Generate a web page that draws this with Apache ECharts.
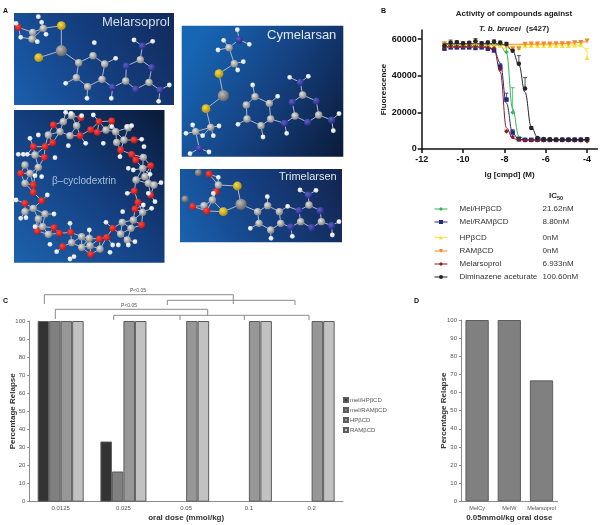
<!DOCTYPE html>
<html><head><meta charset="utf-8">
<style>html,body{margin:0;padding:0;background:#fff}#c{width:605px;height:525px}</style>
<script src="https://cdn.jsdelivr.net/npm/echarts@6/dist/echarts.min.js"></script>
</head><body><div id="c"></div>
<script>
// ---------- Panel B data ----------
const logDose = [-10.9,-10.6,-10.3,-10,-9.7,-9.4,-9.1,-8.8,-8.5,-8.2,-7.9,-7.6,-7.3,-7,-6.7,-6.4,-6.1,-5.8,-5.5,-5.2,-4.9,-4.6,-4.3,-4];
const compounds = ['Mel/HPβCD','Mel/RAMβCD','HPβCD','RAMβCD','Melarsoprol','Diminazene aceturate'];
const ic50 = ['21.62nM','8.80nM','0nM','0nM','6.933nM','100.60nM'];
const melHP   = [56000,56500,56500,57000,56500,56500,57000,56500,56500,56500,53000,20000,6000,5200,5000,5000,5000,5000,5000,5000,5000,5000,5000,5000];
const melRAM  = [54800,55500,55500,55500,55500,55200,55500,54800,53800,45000,27000,9000,5300,5000,5000,5000,5000,5000,5000,5000,5000,5000,5000,5200];
const hp      = [56500,56800,57000,56800,57000,56800,57000,56800,56800,56500,56000,55000,55500,56500,56500,56500,56500,56500,56500,56500,56500,56800,57000,50000];
const ram     = [57500,57500,57800,57500,57500,57800,57300,57300,57500,57000,56000,54700,54800,57200,57300,57300,57300,57300,57500,57500,57500,58000,58200,59000];
const mel     = [55500,56000,56000,55800,56000,55800,56000,55500,55000,43600,9500,6500,5000,4800,4800,4800,4800,4800,4800,4800,4800,4700,4700,4300];
const dimin   = [56500,58000,58300,57800,58000,58800,57800,58200,58600,58000,57300,53700,46500,33000,11500,6000,5500,5300,5200,5200,5200,5200,5200,5300];
const errHP   = [500,500,500,500,500,500,500,500,500,500,2000,13500,800,300,300,300,300,300,300,300,300,300,300,300];
const errRAM  = [800,700,700,600,700,700,600,800,1500,1500,3500,1500,500,300,300,300,300,300,300,300,300,300,300,300];
const errYel  = [300,300,300,300,300,300,300,300,300,300,300,300,300,300,300,300,300,300,300,300,300,300,300,5000];
const errOra  = [500,500,500,500,500,500,500,500,500,500,500,500,500,500,500,500,500,500,500,500,500,800,800,800];
const errMel  = [800,700,700,600,600,600,600,700,1500,1000,800,500,300,300,300,300,300,300,300,300,300,300,300,300];
const errDim  = [1200,1500,800,800,800,1500,800,800,1000,1000,1000,800,4500,6000,800,500,300,300,300,300,300,300,300,300];
const fitHP   = [57000,57000,57000,57000,57000,57000,57000,57000,57000,56500,52500,22000,7000,5200,5000,5000,5000,5000,5000,5000,5000,5000,5000,5000];
const fitRAM  = [55500,55500,55500,55500,55500,55500,55500,55300,54000,47000,25000,8500,5300,5000,5000,5000,5000,5000,5000,5000,5000,5000,5000,5000];
const fitYel  = [56800,56800,56800,56800,56800,56800,56800,56800,56800,56800,56800,56800,56800,56800,56800,56800,56800,56800,56800,56800,56800,56800,56500,53000];
const fitOra  = [57200,57200,57200,57200,57200,57200,57200,57200,57200,57200,57200,57200,57200,57200,57200,57300,57300,57400,57500,57600,57800,58000,58300,58800];
const fitMel  = [56000,56000,56000,56000,56000,56000,56000,55800,54500,42000,11500,5800,5000,4800,4800,4800,4800,4800,4800,4800,4800,4800,4800,4800];
const fitDim  = [57500,57500,57500,57500,57500,57500,57500,57500,57500,57400,56500,53500,46000,31000,12000,6500,5300,5200,5200,5200,5200,5200,5200,5200];
const xTicksB = [-12,-10,-8,-6,-4];
const yTicksB = [0,20000,40000,60000];

// ---------- Panel C data ----------
const doses = ['0.0125','0.025','0.05','0.1','0.2'];
const melHPbCD  = [100,33.3,0,0,0];
const melRAMbCD = [100,16.7,0,0,0];
const HPbCD     = [100,100,100,100,100];
const RAMbCD    = [100,100,100,100,100];

// ---------- Panel D data ----------
const drugs = ['MelCy','MelW','Melarsoprol'];
const relapseD = [100,100,66.7];

// ---------- Panel A molecule sketches: [x, y, element] in a 3x local frame ----------
const molMelarsoprol = [[55,82,'O'],[48,70,'H'],[98,97,'C'],[130,85,'C'],[115,50,'H'],[125,67,'H'],[138,103,'H'],[62,112,'H'],[96,117,'C'],[112,125,'H'],[184,77,'S'],[116,173,'S'],[184,152,'As'],[236,188,'C'],[279,167,'C'],[314,192,'C'],[306,238,'C'],[263,260,'C'],[229,233,'C'],[283,128,'H'],[347,175,'H'],[197,250,'H'],[261,295,'H'],[338,262,'N'],[334,295,'H'],[377,243,'C'],[379,198,'N'],[421,179,'C'],[455,203,'N'],[447,247,'C'],[407,268,'N'],[427,138,'N'],[402,120,'H'],[458,124,'H'],[480,270,'N'],[508,255,'H'],[476,304,'H']];
const molCymelarsan = [[177,74,'N'],[172,44,'H'],[208,88,'H'],[147,98,'C'],[131,76,'H'],[114,105,'H'],[163,146,'C'],[190,140,'H'],[173,165,'H'],[117,176,'S'],[78,281,'S'],[130,242,'As'],[199,270,'C'],[225,245,'C'],[268,265,'C'],[272,312,'C'],[243,332,'C'],[201,312,'C'],[218,210,'H'],[293,244,'H'],[174,328,'H'],[249,366,'H'],[314,325,'N'],[320,355,'H'],[345,303,'C'],[337,262,'N'],[368,240,'C'],[409,258,'N'],[416,300,'C'],[383,322,'N'],[361,202,'N'],[329,187,'H'],[385,184,'H'],[455,315,'N'],[477,296,'H'],[460,347,'H'],[92,337,'C'],[117,333,'H'],[100,362,'H'],[47,350,'C'],[38,330,'H'],[18,355,'H'],[68,362,'H'],[58,400,'N'],[30,416,'H'],[87,411,'H']];
const molTrimelarsen = [[55,473,'G'],[15,552,'G'],[87,477,'O'],[115,510,'C'],[115,487,'H'],[108,530,'O'],[97,555,'C'],[100,535,'H'],[72,572,'C'],[38,574,'O'],[80,588,'O'],[172,513,'S'],[130,590,'S'],[183,568,'As'],[233,590,'C'],[263,572,'C'],[298,590,'C'],[302,625,'C'],[272,645,'C'],[237,625,'C'],[262,545,'H'],[323,574,'H'],[211,640,'H'],[273,670,'H'],[332,636,'N'],[337,664,'H'],[362,620,'C'],[357,587,'N'],[387,570,'C'],[421,587,'N'],[424,620,'C'],[395,638,'N'],[385,540,'N'],[360,525,'H'],[408,526,'H'],[455,632,'N'],[477,620,'H'],[457,660,'H']];
const cycloO = [[160,60],[243,38],[297,50],[335,48],[272,74],[292,82],[402,105],[362,135],[395,148],[407,165],[452,182],[403,258],[452,270],[414,292],[405,312],[425,360],[338,370],[320,397],[298,402],[272,448],[212,382],[188,425],[178,385],[162,368],[112,378],[125,287],[100,262],[100,240],[62,205],[100,125],[133,157],[135,125],[158,113],[240,92],[75,295]];
const cycloC = [[145,90],[180,80],[210,92],[230,62],[190,50],[215,32],[318,75],[347,80],[372,105],[350,112],[385,68],[430,157],[428,190],[445,235],[408,225],[435,215],[462,240],[428,322],[400,345],[393,370],[367,352],[362,387],[382,405],[245,395],[215,413],[245,427],[268,400],[270,422],[300,432],[145,388],[128,365],[115,342],[100,310],[135,327],[75,320],[105,150],[75,180],[90,205],[115,187],[75,235]];
const cycloH = [[90,100],[115,90],[197,22],[213,25],[245,32],[205,122],[257,115],[280,30],[395,62],[380,65],[335,65],[310,115],[425,103],[360,155],[432,125],[400,195],[385,190],[450,208],[483,233],[382,265],[465,290],[445,265],[455,310],[368,320],[430,300],[318,352],[338,420],[405,410],[385,420],[355,420],[330,442],[268,375],[210,355],[222,455],[210,462],[170,440],[150,418],[105,365],[142,270],[125,215],[105,212],[48,285],[62,340],[78,338],[162,327],[55,148],[70,148],[82,148],[165,158]];

// ---------- helpers ----------
const SANS = 'Liberation Sans, Arial, sans-serif';
const colB = ['#35b45a','#27277f','#f6e63c','#f28a2e','#8c1c20','#23232b'];
const symB = ['diamond','rect','triangle','triangle','diamond','circle'];
const rotB = [0,0,0,180,0,0];
const pts  = [melHP,melRAM,hp,ram,mel,dimin];
const errs = [errHP,errRAM,errYel,errOra,errMel,errDim];
const fits = [fitHP,fitRAM,fitYel,fitOra,fitMel,fitDim];
const legendTopsB = [205,218,233.5,247,260,273];
// series keys of panel B stay distinct from the identically spelled bar series of panel C
const keyB = compounds.map(n=>'B:'+n);

const zip = a => logDose.map((x,i)=>[x,a[i]]);
const style = {
  H:{r:2.4,c:['#ffffff','#cfd4dc'],bond:12},
  C:{r:3.7,c:['#e4e4e4','#7d7d7d'],bond:26},
  G:{r:3.5,c:['#b0b0b0','#555555'],bond:0},
  N:{r:3.6,c:['#5a62c8','#23287e'],bond:26},
  O:{r:3.4,c:['#ff4a40','#c01014'],bond:26},
  S:{r:4.4,c:['#f7dc4a','#a98a0c'],bond:32},
  As:{r:5.6,c:['#bdbdbd','#5c5c5c'],bond:46}
};
function molecule(atoms, ox, oy, k){
  const out = [];
  atoms.forEach((a,i)=>{ atoms.slice(i+1).forEach(b=>{
    if(a[2]==='H'&&b[2]==='H') return;
    const lim=(style[a[2]].bond+style[b[2]].bond)*k;
    if(!style[a[2]].bond||!style[b[2]].bond) return;
    if(Math.hypot(a[0]-b[0],a[1]-b[1])<lim)
      out.push({type:'line',z:2,shape:{x1:ox+a[0]/3,y1:oy+a[1]/3,x2:ox+b[0]/3,y2:oy+b[1]/3},style:{stroke:'#aeb6c6',lineWidth:1}});
  });});
  atoms.forEach(a=>{const s=style[a[2]];
    out.push({type:'circle',z:3,shape:{cx:ox+a[0]/3,cy:oy+a[1]/3,r:s.r},
      style:{fill:{type:'radial',x:.38,y:.35,r:.7,colorStops:[{offset:0,color:s.c[0]},{offset:1,color:s.c[1]}]}}});
  });
  return out;
}
function panel(x,y,w,h,c1,c2,c3,gx,gy,gx2,gy2){
  return {type:'rect',z:1,shape:{x,y,width:w,height:h},style:{fill:{type:'linear',x:gx,y:gy,x2:gx2,y2:gy2,colorStops:[{offset:0,color:c1},{offset:.5,color:c2},{offset:1,color:c3}]}}};
}
const txt=(x,y,text,o)=>({type:'text',z:5,x,y,style:Object.assign({text,fontFamily:SANS,verticalAlign:'middle',align:'left'},o)});
function bracket(x1,x2,top,l,r,mids){
  const out=[{type:'polyline',z:2,shape:{points:[[x1,l],[x1,top],[x2,top],[x2,r]]},style:{stroke:'#8a8a8a',lineWidth:1,fill:null}}];
  (mids||[]).forEach(m=>out.push({type:'line',z:2,shape:{x1:m,y1:top,x2:m,y2:l},style:{stroke:'#8a8a8a',lineWidth:1}}));
  return out;
}
const cycloAtoms = [...cycloO.map(p=>[p[0],p[1],'O']),...cycloC.map(p=>[p[0],p[1],'C']),...cycloH.map(p=>[p[0],p[1],'H'])];

const graphics = [
  panel(14,13,160,92,'#1b5fae','#143f80','#122a5c',0,1,1,0),
  panel(14,110,150.5,152.7,'#1d62ad','#143f80','#0a1a38',0,1,1,0),
  panel(181.7,25.7,161.6,131,'#1766b4','#15407f','#0a1a38',0,.3,1,1),
  panel(180,169,162,73.3,'#1a62b0','#153f80','#14244f',0,1,1,0),
  ...molecule(molMelarsoprol,0,0,1),
  ...molecule(cycloAtoms,0,105,.78),
  ...molecule(molCymelarsan,180,15,1),
  ...molecule(molTrimelarsen,180,15,1),
  txt(102,22.6,'Melarsoprol',{fill:'#d5dfec',fontSize:13}),
  txt(52,181,'β–cyclodextrin',{fill:'#a9bfd8',fontSize:10}),
  txt(267,35.7,'Cymelarsan',{fill:'#e0e8f2',fontSize:13}),
  txt(279,177,'Trimelarsen',{fill:'#dfe7f1',fontSize:11}),
  txt(3,11,'A',{fill:'#111',fontSize:7,fontWeight:'bold'}),
  txt(381,11,'B',{fill:'#111',fontSize:7,fontWeight:'bold'}),
  txt(3,301,'C',{fill:'#111',fontSize:7,fontWeight:'bold'}),
  txt(414,301,'D',{fill:'#111',fontSize:7,fontWeight:'bold'}),
  txt(549,196,'{a|IC}{b|50}',{fontWeight:'bold',rich:{a:{fontSize:8,fontWeight:'bold',fill:'#222',fontFamily:SANS},b:{fontSize:5.5,fontWeight:'bold',fill:'#222',fontFamily:SANS,verticalAlign:'bottom',padding:[5,0,0,0]}}}),
  ...bracket(44.3,233.3,294.7,304,304),
  ...bracket(167.3,295,300.3,305,305),
  ...bracket(55.3,207.7,309.3,319,315.7),
  ...bracket(113.7,309,315.3,320,320,[180,244.3]),
  txt(130,291,'P<0.05',{fill:'#555',fontSize:5}),
  txt(121,306,'P<0.05',{fill:'#555',fontSize:5})
];

// ---------- series ----------
const seriesB = [];
compounds.forEach((name,i)=>{
  seriesB.push({type:'line',xAxisIndex:0,yAxisIndex:0,data:zip(fits[i]),showSymbol:false,smooth:.4,smoothMonotone:'x',silent:true,z:2,
    lineStyle:{color:colB[i],width:1}});
});
compounds.forEach((name,i)=>{
  seriesB.push({type:'custom',xAxisIndex:0,yAxisIndex:0,z:3,silent:true,
    data:logDose.map((x,k)=>[x,pts[i][k],pts[i][k]+errs[i][k]]),
    encode:{x:0,y:[1,2]},
    renderItem(params,api){
      const a=api.coord([api.value(0),api.value(1)]),b=api.coord([api.value(0),api.value(2)]);
      const st={stroke:colB[i],lineWidth:.8};
      return {type:'group',children:[
        {type:'line',shape:{x1:a[0],y1:a[1],x2:b[0],y2:b[1]},style:st},
        {type:'line',shape:{x1:b[0]-2,y1:b[1],x2:b[0]+2,y2:b[1]},style:st}]};
    }});
});
compounds.forEach((name,i)=>{
  seriesB.push({type:'line',name:keyB[i],xAxisIndex:0,yAxisIndex:0,data:zip(pts[i]),z:4,
    symbol:symB[i],symbolRotate:rotB[i],symbolSize:i===3||i===2?5:4.5,showAllSymbol:true,
    itemStyle:{color:colB[i]},lineStyle:{opacity:0,width:0,color:colB[i]}});
});

const barCols = ['#333333','#808080','#979797','#c2c2c2'];
const barNames = ['mel/HPβCD','mel/RAMβCD','HPβCD','RAMβCD'];
const seriesC = [melHPbCD,melRAMbCD,HPbCD,RAMbCD].map((d,i)=>({
  type:'bar',name:barNames[i],xAxisIndex:1,yAxisIndex:1,
  data:d.map(v=>v===0?{value:v,itemStyle:{borderWidth:0}}:v),barWidth:11.5,barGap:0,
  itemStyle:{color:barCols[i],borderColor:'#5c5c5c',borderWidth:1}
}));
const seriesD = [{type:'bar',xAxisIndex:2,yAxisIndex:2,data:relapseD,barWidth:23.3,
  itemStyle:{color:'#808080',borderColor:'#5c5c5c',borderWidth:1}}];

const thin = {fontFamily:SANS,fontSize:6,color:'#555'};
const nameBold = {fontFamily:SANS,fontSize:8,fontWeight:'bold',color:'#333'};
const greyLine = {lineStyle:{color:'#8a8a8a',width:1}};
const blackB = {lineStyle:{color:'#111',width:1.5}};

const option = {
  animation:false,
  backgroundColor:'#fff',
  textStyle:{fontFamily:SANS},
  title:[{text:'Activity of compounds against',left:509,top:5,textAlign:'center',
    textStyle:{fontFamily:SANS,fontSize:8,fontWeight:'bold',color:'#222'}},
    {text:'{i|T. b. brucei} {n|(s427)}',left:509,top:14.5,textAlign:'center',
    textStyle:{fontFamily:SANS,rich:{i:{fontFamily:SANS,fontSize:8,fontWeight:'bold',fontStyle:'italic',color:'#222'},n:{fontFamily:SANS,fontSize:8,fontWeight:'bold',color:'#222'}}}}],
  grid:[
    {left:421.7,top:30,width:175.7,height:119,outerBoundsMode:'none'},
    {left:29.3,top:321,width:313.7,height:180.7,outerBoundsMode:'none'},
    {left:461,top:320,width:96.6,height:181.3,outerBoundsMode:'none'}
  ],
  xAxis:[
    {gridIndex:0,type:'value',min:-12,max:-3.5,interval:2,name:'lg [cmpd] (M)',nameLocation:'middle',nameGap:22,
      nameTextStyle:{fontFamily:SANS,fontSize:8,fontWeight:'bold',color:'#222'},
      splitLine:{show:false},axisLine:Object.assign({onZero:false},blackB),axisTick:Object.assign({length:4,customValues:xTicksB},blackB),
      axisLabel:{customValues:xTicksB,fontFamily:SANS,fontSize:9,fontWeight:'bold',color:'#111',margin:6}},
    {gridIndex:1,type:'category',data:doses,name:'oral dose (mmol/kg)',nameLocation:'middle',nameGap:12,nameTextStyle:nameBold,
      axisLine:greyLine,axisTick:Object.assign({length:2},greyLine),axisLabel:Object.assign({margin:4,interval:0},thin)},
    {gridIndex:2,type:'category',data:drugs,name:'0.05mmol/kg oral dose',nameLocation:'middle',nameGap:12,nameTextStyle:nameBold,
      axisLine:greyLine,axisTick:Object.assign({length:2},greyLine),axisLabel:Object.assign({margin:4,interval:0},thin,{fontSize:5.5})}
  ],
  yAxis:[
    {gridIndex:0,type:'value',min:0,max:65000,interval:20000,name:'Fluorescence',nameLocation:'middle',nameGap:34,
      nameTextStyle:{fontFamily:SANS,fontSize:8,fontWeight:'bold',color:'#222'},
      splitLine:{show:false},axisLine:Object.assign({show:true},blackB),axisTick:Object.assign({show:true,length:4,customValues:yTicksB},blackB),
      axisLabel:{customValues:yTicksB,formatter:v=>String(v),fontFamily:SANS,fontSize:9,fontWeight:'bold',color:'#111',margin:5}},
    {gridIndex:1,type:'value',min:0,max:100,interval:10,name:'Percentage Relapse',nameLocation:'middle',nameGap:13,nameMoveOverlap:false,nameTextStyle:nameBold,
      splitLine:{show:false},axisLine:Object.assign({show:true},greyLine),axisTick:Object.assign({show:true,length:2},greyLine),axisLabel:Object.assign({margin:4},thin)},
    {gridIndex:2,type:'value',min:0,max:100,interval:10,name:'Percentage Relapse',nameLocation:'middle',nameGap:13,nameMoveOverlap:false,nameTextStyle:nameBold,
      splitLine:{show:false},axisLine:Object.assign({show:true},greyLine),axisTick:Object.assign({show:true,length:2},greyLine),axisLabel:Object.assign({margin:4},thin)}
  ],
  legend:[
    ...compounds.map((name,i)=>({
      data:[keyB[i]],left:434,top:legendTopsB[i],itemWidth:13,itemHeight:5,itemGap:0,selectedMode:false,
      lineStyle:{color:colB[i],opacity:1,width:1},itemStyle:{color:colB[i]},padding:0,
      formatter:()=>`{n|${compounds[i]}}{v|${ic50[i]}}`,
      textStyle:{fontFamily:SANS,fontSize:8,color:'#333',rich:{n:{width:83,padding:[0,0,0,7],fontFamily:SANS,fontSize:8,color:'#333'},v:{fontFamily:SANS,fontSize:8,color:'#333'}}}
    })),
    {data:barNames.map(name=>({name,icon:'rect'})),left:343,top:397,orient:'vertical',itemWidth:4,itemHeight:4,itemGap:4,selectedMode:false,padding:0,
      textStyle:{fontFamily:SANS,fontSize:6,color:'#555',padding:[0,0,0,-3]}}
  ],
  graphic:{elements:graphics},
  series:[...seriesB,...seriesC,...seriesD]
};
echarts.init(document.getElementById('c'),null,{renderer:'canvas'}).setOption(option);
</script></body></html>
